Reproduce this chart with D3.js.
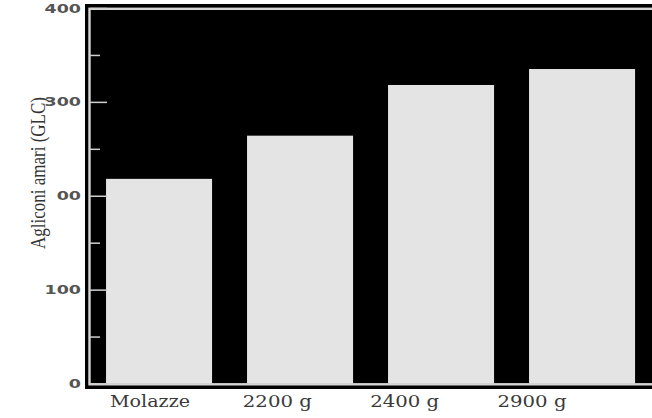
<!DOCTYPE html>
<html><head><meta charset="utf-8">
<script src="https://cdn.jsdelivr.net/npm/d3@7"></script>
<style>body{margin:0;background:#fff;overflow:hidden}svg{display:block}</style>
</head><body>
<script>
const categories = ["Molazze", "2200 g", "2400 g", "2900 g"];
const values = [218, 264, 318, 335];
const majorTicks = [0, 100, 200, 300, 400];
const majorTickLabels = ["0", "100", "00", "300", "400"];
const minorTicks = [50, 150, 250, 350];
const yTitle = "Agliconi amari (GLC)";

const W = 652, H = 418;
const svg = d3.select("body").append("svg").attr("width", W).attr("height", H);

const y = d3.scaleLinear().domain([0, 400]).range([383.5, 8]);
const x = d3.scaleBand().domain(categories).range([87.7, 653.4]).paddingInner(0.248).paddingOuter(0.13);
const xl = d3.scalePoint().domain(categories).range([150, 532]);

// frame
svg.append("rect").attr("x", 85).attr("y", 4).attr("width", 600).attr("height", 385).attr("fill", "#000");
svg.append("rect").attr("x", 89.5).attr("y", 8.8).attr("width", 600).attr("height", 375.5)
  .attr("fill", "#000").attr("stroke", "#d6d6d6").attr("stroke-width", 2.4);

// bars
svg.append("g").selectAll("rect").data(categories).join("rect")
  .attr("x", d => x(d)).attr("width", x.bandwidth())
  .attr("y", (d, i) => y(values[i])).attr("height", (d, i) => y(0) - y(values[i]))
  .attr("fill", "#e4e4e4");

// ticks inside
const axis = d3.axisRight(y).tickValues(majorTicks).tickSize(17).tickFormat("");
const ga = svg.append("g").attr("transform", "translate(90,0)").call(axis);
ga.select(".domain").remove();
ga.selectAll(".tick line").attr("stroke", "#d0d0d0").attr("stroke-width", 1.5);
const axisMinor = d3.axisRight(y).tickValues(minorTicks).tickSize(10).tickFormat("");
const gm = svg.append("g").attr("transform", "translate(90,0)").call(axisMinor);
gm.select(".domain").remove();
gm.selectAll(".tick line").attr("stroke", "#d0d0d0").attr("stroke-width", 1.5);

// y tick labels
svg.append("g").selectAll("text").data(majorTicks).join("text")
  .attr("transform", d => `translate(81,${y(d) + 4.5}) scale(1.4,1)`)
  .attr("text-anchor", "end")
  .attr("font-family", "DejaVu Sans").attr("font-weight", "bold").attr("font-size", 12.5)
  .attr("fill", "#555")
  .text((d, i) => majorTickLabels[i]);

// y title
svg.append("text")
  .attr("transform", "translate(45,173) rotate(-90)")
  .attr("text-anchor", "middle")
  .attr("font-family", "Liberation Serif").attr("font-size", 21)
  .attr("textLength", 152).attr("lengthAdjust", "spacingAndGlyphs")
  .attr("fill", "#333")
  .text(yTitle);

// x labels
svg.append("g").selectAll("text").data(categories).join("text")
  .attr("x", d => xl(d)).attr("y", 407)
  .attr("text-anchor", "middle")
  .attr("font-family", "DejaVu Serif").attr("font-size", 16.5)
  .attr("textLength", (d, i) => i === 0 ? 80 : 69).attr("lengthAdjust", "spacingAndGlyphs")
  .attr("fill", "#3a3a3a")
  .text(d => d);
</script>
</body></html>
